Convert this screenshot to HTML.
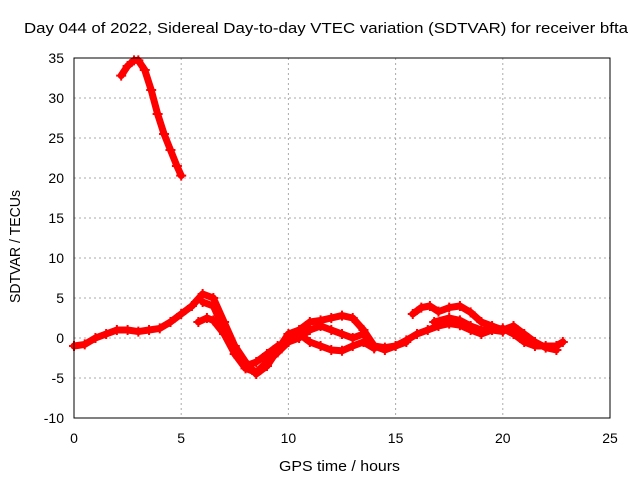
<!DOCTYPE html>
<html><head><meta charset="utf-8"><style>
body{margin:0;background:#fff}
svg{display:block;font-family:"Liberation Sans",sans-serif}
</style></head><body>
<svg id="chart" width="640" height="480">
<text x="24" y="33" font-size="15" textLength="604" lengthAdjust="spacingAndGlyphs">Day 044 of 2022, Sidereal Day-to-day VTEC variation (SDTVAR) for receiver bfta</text>
<text x="279" y="471" font-size="15" textLength="121" lengthAdjust="spacingAndGlyphs">GPS time / hours</text>
<text transform="translate(20,303) rotate(-90)" font-size="15" textLength="113" lengthAdjust="spacingAndGlyphs">SDTVAR / TECUs</text>
<g id="grid"></g><g id="ticks"></g><g id="marks"></g>
<rect x="74" y="58" width="536" height="360" fill="none" stroke="#000"/>
</svg>
<script>
const xTicks=[0,5,10,15,20,25];
const yTicks=[-10,-5,0,5,10,15,20,25,30,35];
const s1x=[2.2,2.5,2.8,3.0,3.3,3.6,3.9,4.2,4.5,4.8,5.0];
const s1y=[32.8,34,34.7,34.7,33.5,31,28,25.5,23.5,21.5,20.3];
const s2x=[0,0.5,1,1.5,2,2.5,3,3.5,4,4.5,5,5.5,6,6.5,7,7.5,8,8.5,9,9.5,10,10.5,11,11.5,12,12.5,13,13.5,14,14.5,15,15.5];
const s2y=[-1,-0.8,0,0.5,1,1,0.8,1,1.2,2,3,4,5.5,5,2,-1,-3,-4.5,-3.5,-1.5,0.5,1,2,2.2,2.5,2.8,2.5,1,-1,-1.5,-1,-0.5];
const s3x=[5.8,6.2,6.5,7,7.5,8,8.5,9,9.5,10,10.5,11,11.5,12,12.5,13,13.5,14,14.5,15,15.5,16,16.5,17,17.5,18,18.5,19,19.5,20,20.5,21,21.5,22,22.5,22.8];
const s3y=[2,2.5,2.2,0.5,-2,-3.8,-4.3,-3,-1.8,-0.5,0,1,1.5,1,0.5,0,0.5,-1,-1.2,-1,-0.3,0.5,1,1.5,1.8,1.6,1,0.5,1,1.2,0.5,-0.5,-1,-1,-1,-0.5];
const s4x=[15.8,16.2,16.6,17,17.5,18,18.5,19,19.5,20,20.5,21,21.5,22,22.5];
const s4y=[3,3.8,4,3.3,3.8,4,3.2,2,1.5,1,1.5,0.5,-0.5,-1.2,-1.5];
const s5x=[6,6.5,7,7.5,8,8.5,9,9.5,10,10.5,11,11.5,12,12.5,13,13.5,14];
const s5y=[4.5,4,1,-2,-3.5,-3,-2,-1,-0.5,0.5,-0.5,-1,-1.5,-1.6,-1,-0.5,-1.3];
const s6x=[16.8,17.5,18,18.5,19,19.5,20];
const s6y=[2,2.5,2.2,1.5,1,1,0.8];
const series=[[s1x,s1y],[s2x,s2y],[s3x,s3y],[s4x,s4y],[s5x,s5y],[s6x,s6y]];
const X=v=>74+v*536/25, Y=v=>418-(v+10)*8;
const NS="http://www.w3.org/2000/svg";
const g=document.getElementById('grid'),t=document.getElementById('ticks'),m=document.getElementById('marks');
function mk(tag,attrs,parent){const e=document.createElementNS(NS,tag);for(const k in attrs)e.setAttribute(k,attrs[k]);parent.appendChild(e);return e;}
xTicks.forEach(v=>{
 const l=mk('line',{x1:X(v),x2:X(v),y1:58,y2:418,stroke:'#aaa','stroke-dasharray':'2,3'},g);
 
 
 const tx=mk('text',{x:X(v),y:443,'font-size':14,'text-anchor':'middle'},t);tx.textContent=v;
 
 
});
yTicks.forEach(v=>{
 const l=mk('line',{x1:74,x2:610,y1:Y(v),y2:Y(v),stroke:'#aaa','stroke-dasharray':'2,3'},g);
 
 
 const tx=mk('text',{x:64,y:Y(v)+5,'font-size':14,'text-anchor':'end'},t);tx.textContent=v;
 
 
});
series.forEach((s,i)=>{
 const pts=s[0].map((x,j)=>X(x)+','+Y(s[1][j])).join(' ');
 const p=mk('polyline',{points:pts,fill:'none',stroke:'#f00','stroke-width':7,'stroke-linejoin':'round','stroke-linecap':'round'},m);
 
 
 s[0].forEach((x,j)=>{
  const cx=X(x),cy=Y(s[1][j]);
  const c=mk('path',{d:`M${cx-5},${cy}h10M${cx},${cy-5}v10`,stroke:'#f00','stroke-width':2},m);
  
  
 });
});
</script>
</body></html>
